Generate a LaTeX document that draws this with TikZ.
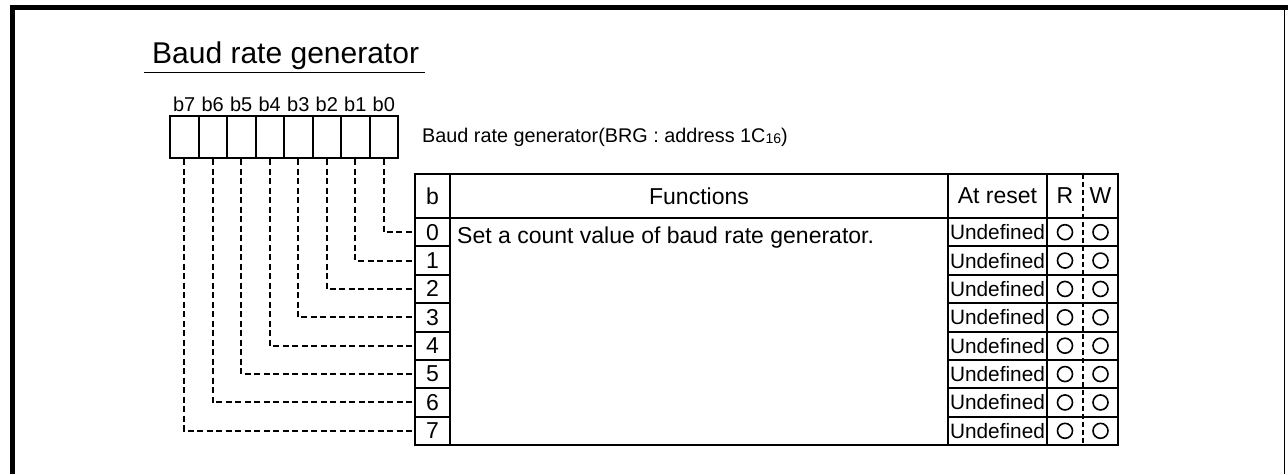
\documentclass[tikz,border=0pt]{standalone}
\usepackage{fontspec}
\setmainfont{Liberation Sans}
\usetikzlibrary{positioning,calc}

\begin{document}
\begin{tikzpicture}[
    x=1pt, y=-1pt,
    tbl/.style={line width=2pt},
    bitcell/.style={rectangle, draw, line width=2pt, minimum width=28.5pt, minimum height=42pt, inner sep=0pt},
    bcell/.style={rectangle, draw, line width=2pt, minimum width=35pt, minimum height=28.375pt, inner sep=0pt, font=\fontsize{23}{25}\selectfont},
    txt/.style={inner sep=0pt, font=\fontsize{23}{25}\selectfont},
    resettxt/.style={inner sep=0pt, font=\fontsize{20.8}{22}\selectfont},
    okmark/.style={circle, draw, line width=1.6pt, minimum size=15pt, inner sep=0pt},
    link/.style={line width=2pt, dash pattern=on 6pt off 3.5pt}
]
\useasboundingbox (0,0) rectangle (1288,474);

% Frame
\draw[line width=5pt] (12.5,474) -- (12.5,7.5) -- (1288,7.5);
\draw[line width=1.8pt] (1284.5,7.5) -- (1284.5,474);

% Title
\node[anchor=base west, inner sep=0pt, font=\fontsize{30}{34}\selectfont] (title) at (152,63) {Baud rate generator};
\draw[line width=1.8pt] (144,72.5) -- (425,72.5);

% Register bits
\foreach \i in {0,...,7} {
  \node[bitcell] (c\i) at ({383.75-28.5*\i},137) {};
  \node[anchor=base, inner sep=0pt, font=\fontsize{20}{22}\selectfont] (l\i) at ([yshift=4pt]c\i.north) {b\i};
}
\node[anchor=base west, inner sep=0pt, font=\fontsize{19.8}{21}\selectfont] (regname) at (422,142)
  {Baud rate generator(BRG : address 1C\raisebox{-1pt}{\fontsize{14}{14}\selectfont 16})};

% Table frame
\draw[tbl] (415,174) rectangle (1118,445);
\draw[tbl] (415,218) -- (1118,218);
\foreach \x in {450,948,1047} \draw[tbl] (\x,174) -- (\x,445);
\draw[line width=1.6pt, dash pattern=on 5pt off 3pt] (1083,174) -- (1083,445);
\foreach \k in {1,...,7} \draw[tbl] (948,{218+28.375*\k}) -- (1118,{218+28.375*\k});

% Header
\node[txt] (hb) at (432.5,196) {b};
\node[txt] (hfun) at (699,196) {Functions};
\node[txt] (hreset) at (997.5,196) {At reset};
\node[txt] (hr) at (1065,196) {R};
\node[txt] (hw) at (1100.5,196) {W};

% Rows
\foreach \i in {0,...,7} {
  \node[bcell] (r\i) at (432.5,{218+28.375*(\i+0.5)}) {\i};
  \node[resettxt] (u\i) at (997.5,{218+28.375*(\i+0.5)}) {Undefined};
  \node[okmark] (mr\i) at (1065,{218+28.375*(\i+0.5)}) {};
  \node[okmark] (mw\i) at (1100.5,{218+28.375*(\i+0.5)}) {};
}
\node[txt, anchor=base west] (fun) at (457,243) {Set a count value of baud rate generator.};

% Bit links
\foreach \i in {0,...,7} \draw[link] (c\i.south) |- (r\i.west);

\end{tikzpicture}
\end{document}
